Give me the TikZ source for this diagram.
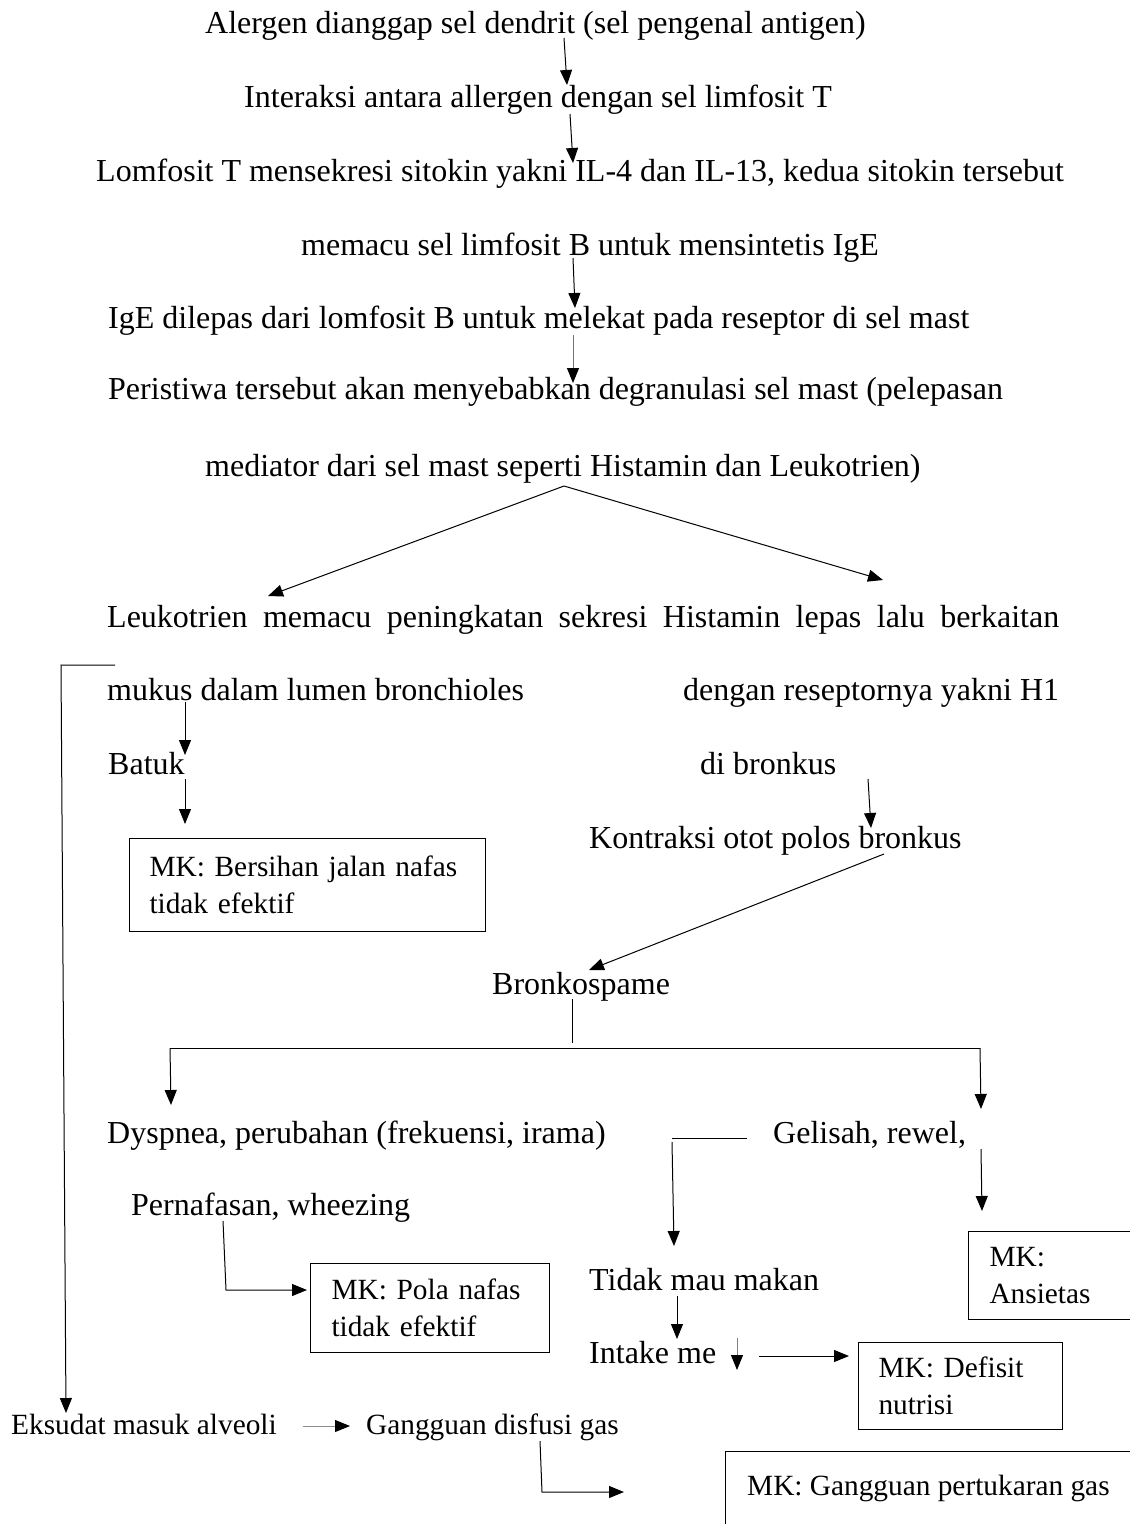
\documentclass[tikz,border=0pt]{standalone}
\usepackage{fontspec}
\setmainfont{Liberation Serif}
\usetikzlibrary{arrows.meta}
\begin{document}
\begin{tikzpicture}[x=1pt,y=-1pt,
  every node/.style={font=\fontsize{32}{38}\selectfont},
  txt/.style={inner sep=0pt, anchor=base west},
  small/.style={font=\fontsize{29.33}{37}\selectfont},
  mkbox/.style={draw, line width=1pt, anchor=north west, align=left, inner xsep=20pt, inner ysep=0pt, small},
  arr/.style={-{Triangle[length=15pt,width=12pt,color=black]}, line width=1pt},
  ln/.style={line width=1pt}]
\useasboundingbox (0,0) rectangle (1130,1524);
\clip (0,0) rectangle (1130,1524);
% text nodes
\node[txt] (n1) at (205,33) {Alergen dianggap sel dendrit (sel pengenal antigen)};
\node[txt] (n2) at (244,107) {Interaksi antara allergen dengan sel limfosit T};
\node[txt] (n3) at (96,181) {Lomfosit T mensekresi sitokin yakni IL-4 dan IL-13, kedua sitokin tersebut};
\node[txt] (n3b) at (301,255) {memacu sel limfosit B untuk mensintetis IgE};
\node[txt] (n4) at (108,328) {IgE dilepas dari lomfosit B untuk melekat pada reseptor di sel mast};
\node[txt] (n5) at (108,399) {Peristiwa tersebut akan menyebabkan degranulasi sel mast (pelepasan};
\node[txt] (n5b) at (205,476) {mediator dari sel mast seperti Histamin dan Leukotrien)};
\node[txt] (n6) at (107,627) {\makebox[952pt][s]{Leukotrien memacu peningkatan sekresi Histamin lepas lalu berkaitan}};
\node[txt] (n7) at (107,700) {mukus dalam lumen bronchioles};
\node[txt] (n8) at (683,700) {dengan reseptornya yakni H1};
\node[txt] (n9) at (108,774) {Batuk};
\node[txt] (n10) at (700,774) {di bronkus};
\node[txt] (n11) at (589,848) {Kontraksi otot polos bronkus};
\node[mkbox, minimum width=356pt, minimum height=93pt, text width=316pt] (mk1) at (129,838) {MK: Bersihan jalan nafas\\tidak efektif};
\node[txt] (n12) at (492,994) {Bronkospame};
\node[txt] (n13) at (107,1143) {Dyspnea, perubahan (frekuensi, irama)};
\node[txt] (n14) at (773,1143) {Gelisah, rewel,};
\node[txt] (n15) at (131,1215) {Pernafasan, wheezing};
\node[mkbox, minimum width=239pt, minimum height=89pt, text width=197pt, inner xsep=21pt] (mk2) at (310,1263) {MK: Pola nafas\\tidak efektif};
\node[txt] (n16) at (589,1290) {Tidak mau makan};
\node[mkbox, minimum width=200pt, minimum height=88pt, text width=158pt, inner xsep=21pt] (mk3) at (968,1231) {MK:\\Ansietas};
\node[txt] (n17) at (589,1363) {Intake me};
\node[mkbox, minimum width=204pt, minimum height=87pt, text width=164pt] (mk4) at (858,1342) {MK: Defisit\\nutrisi};
\node[txt, small] (n18) at (11,1434) {Eksudat masuk alveoli};
\node[txt, small] (n19) at (366,1434) {Gangguan disfusi gas};
\node[draw, line width=1pt, anchor=north west, minimum width=420pt, minimum height=120pt, inner sep=0pt] (mk5) at (725,1451) {};
\node[txt, small] (mk5t) at (747,1495) {MK: Gangguan pertukaran gas};
% connector points
\coordinate (a1s) at (564,38);  \coordinate (a1e) at (567,85);
\coordinate (a2s) at (570,114); \coordinate (a2e) at (573,163);
\coordinate (a3s) at (573,258); \coordinate (a3e) at (575,308);
\coordinate (a4s) at (573,335); \coordinate (a4e) at (573,383);
\coordinate (sp) at (564,486);
\coordinate (spl) at (268,596); \coordinate (spr) at (883,580);
\coordinate (bk1) at (115,665); \coordinate (bk2) at (61,665); \coordinate (bk3) at (66,1413);
\coordinate (a7s) at (185,702); \coordinate (a7e) at (185,755);
\coordinate (a8s) at (185,779); \coordinate (a8e) at (185,824);
\coordinate (a9s) at (868,779); \coordinate (a9e) at (871,828);
\coordinate (a10s) at (884,854); \coordinate (a10e) at (589,970);
\coordinate (b1) at (572,999); \coordinate (b2) at (572,1043);
\coordinate (hl) at (170,1048); \coordinate (hr) at (980,1048);
\coordinate (hle) at (171,1105); \coordinate (hre) at (981,1109);
\coordinate (g1) at (747,1138); \coordinate (g2) at (672,1138);
\coordinate (g3) at (672,1142); \coordinate (g4) at (674,1246);
\coordinate (r1) at (981,1149); \coordinate (r2) at (982,1211);
\coordinate (p1) at (223,1221); \coordinate (p2) at (226,1290); \coordinate (p3) at (307,1290);
\coordinate (t1) at (677,1296); \coordinate (t2) at (677,1339);
\coordinate (dn1) at (737,1338); \coordinate (dn2) at (737,1370);
\coordinate (i1) at (759,1356); \coordinate (i2) at (849,1356);
\coordinate (e1) at (303,1426); \coordinate (e2) at (350,1426);
\coordinate (d1) at (540,1441); \coordinate (d2) at (542,1492); \coordinate (d3) at (624,1492);
% connectors
\draw[arr] (a1s) -- (a1e);
\draw[arr] (a2s) -- (a2e);
\draw[arr] (a3s) -- (a3e);
\draw[arr, draw=black!55] (a4s) -- (a4e);
\draw[arr] (sp) -- (spl);
\draw[arr] (sp) -- (spr);
\draw[arr] (bk1) -- (bk2) -- (bk3);
\draw[arr] (a7s) -- (a7e);
\draw[arr] (a8s) -- (a8e);
\draw[arr] (a9s) -- (a9e);
\draw[arr] (a10s) -- (a10e);
\draw[ln] (b1) -- (b2);
\draw[ln] (hl) -- (hr);
\draw[arr] (hl) -- (hle);
\draw[arr] (hr) -- (hre);
\draw[ln] (g1) -- (g2);
\draw[arr] (g3) -- (g4);
\draw[arr] (r1) -- (r2);
\draw[arr] (p1) -- (p2) -- (p3);
\draw[arr] (t1) -- (t2);
\draw[arr, draw=black!50] (dn1) -- (dn2);
\draw[arr] (i1) -- (i2);
\draw[arr, draw=black!45] (e1) -- (e2);
\draw[arr] (d1) -- (d2) -- (d3);
\end{tikzpicture}
\end{document}
